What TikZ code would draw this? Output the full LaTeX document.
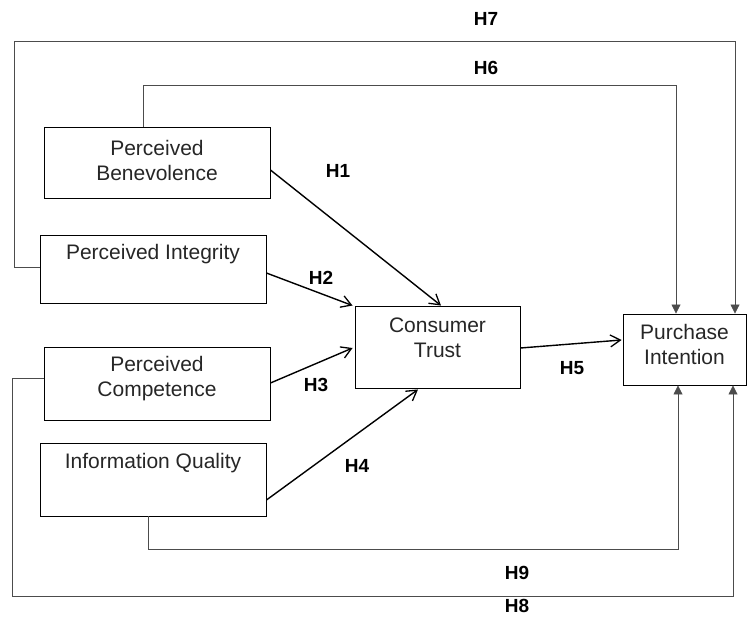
\documentclass[tikz,border=0pt]{standalone}
\usepackage{fontspec}
\setmainfont{Liberation Sans}
\usetikzlibrary{arrows.meta,calc}
\begin{document}
\begin{tikzpicture}[x=1pt,y=-1pt,
  box/.style={draw=black,line width=0.9pt,rectangle,inner sep=0pt},
  btext/.style={align=center,font=\fontsize{21}{25}\selectfont,text=black!85,inner sep=0pt},
  hyp/.style={line width=1.4pt,-{Straight Barb[length=10pt,width=12pt,line width=1.3pt]}},
  direct/.style={draw=black!70,line width=0.8pt,-{Triangle[length=9pt,width=9pt]}},
  hlab/.style={font=\fontsize{19}{20}\selectfont\bfseries,inner sep=0pt}]
\useasboundingbox (0,0) rectangle (747,616);
% boxes
\node[box,minimum width=226pt,minimum height=71pt] (ben) at (157,162.5) {};
\node[box,minimum width=226pt,minimum height=68pt] (integ) at (153,269) {};
\node[box,minimum width=226pt,minimum height=73pt] (comp) at (157,383.5) {};
\node[box,minimum width=226pt,minimum height=73pt] (info) at (153,479.5) {};
\node[box,minimum width=165pt,minimum height=82pt] (trust) at (437.5,347) {};
\node[box,minimum width=123pt,minimum height=71pt] (pi) at (684.5,349.5) {};
% texts
\node[btext] (tben) at (157,160.5) {Perceived\\Benevolence};
\node[btext] (tinteg) at (153,254) {Perceived Integrity};
\node[btext] (tcomp) at (157,379) {Perceived\\Competence};
\node[btext] (tinfo) at (153,463) {Information Quality};
\node[btext] (ttrust) at (437.5,338) {Consumer\\Trust};
\node[btext] (tpi) at (684.5,344.5) {Purchase\\Intention};
% hypothesis arrows
\draw[hyp] ($(ben.east)+(0,7.5)$) -- ($(trust.north)+(3.5,0)$);
\draw[hyp] ($(integ.east)+(0,4)$) -- ($(trust.north west)+(-2,0)$);
\draw[hyp] ($(comp.east)+(0,-0.5)$) -- ($(trust.west)+(-2,1)$);
\draw[hyp] ($(info.east)+(0,20.5)$) -- ($(trust.south)+(-19.5,1)$);
\draw[hyp] ($(trust.east)+(0,1)$) -- ($(pi.west)+(-1,-9.5)$);
% direct paths
\coordinate (h7c) at (14,41);
\coordinate (h7d) at (735,41);
\draw[direct] ($(integ.west)+(0,-2)$) -- ($(integ.west -| h7c)+(0,-2)$) -- (h7c) -- (h7d) -- (h7d |- pi.north);
\coordinate (h6c) at (143,85);
\coordinate (h6d) at (676,85);
\draw[direct] (h6c |- ben.north) -- (h6c) -- (h6d) -- (h6d |- pi.north);
\coordinate (h9c) at (148,549);
\coordinate (h9d) at (678,549);
\draw[direct] (h9c |- info.south) -- (h9c) -- (h9d) -- (h9d |- pi.south);
\coordinate (h8c) at (12,596);
\coordinate (h8d) at (733,596);
\draw[direct] ($(comp.west)+(0,-5.5)$) -- ($(comp.west -| h8c)+(0,-5.5)$) -- (h8c) -- (h8d) -- (h8d |- pi.south);
% labels
\node[hlab] (l7) at (486,19) {H7};
\node[hlab] (l6) at (486,68) {H6};
\node[hlab] (l1) at (338,171) {H1};
\node[hlab] (l2) at (321,278) {H2};
\node[hlab] (l3) at (316,385) {H3};
\node[hlab] (l4) at (357,466) {H4};
\node[hlab] (l5) at (572,368) {H5};
\node[hlab] (l9) at (517,573) {H9};
\node[hlab] (l8) at (517,606) {H8};
\end{tikzpicture}
\end{document}
